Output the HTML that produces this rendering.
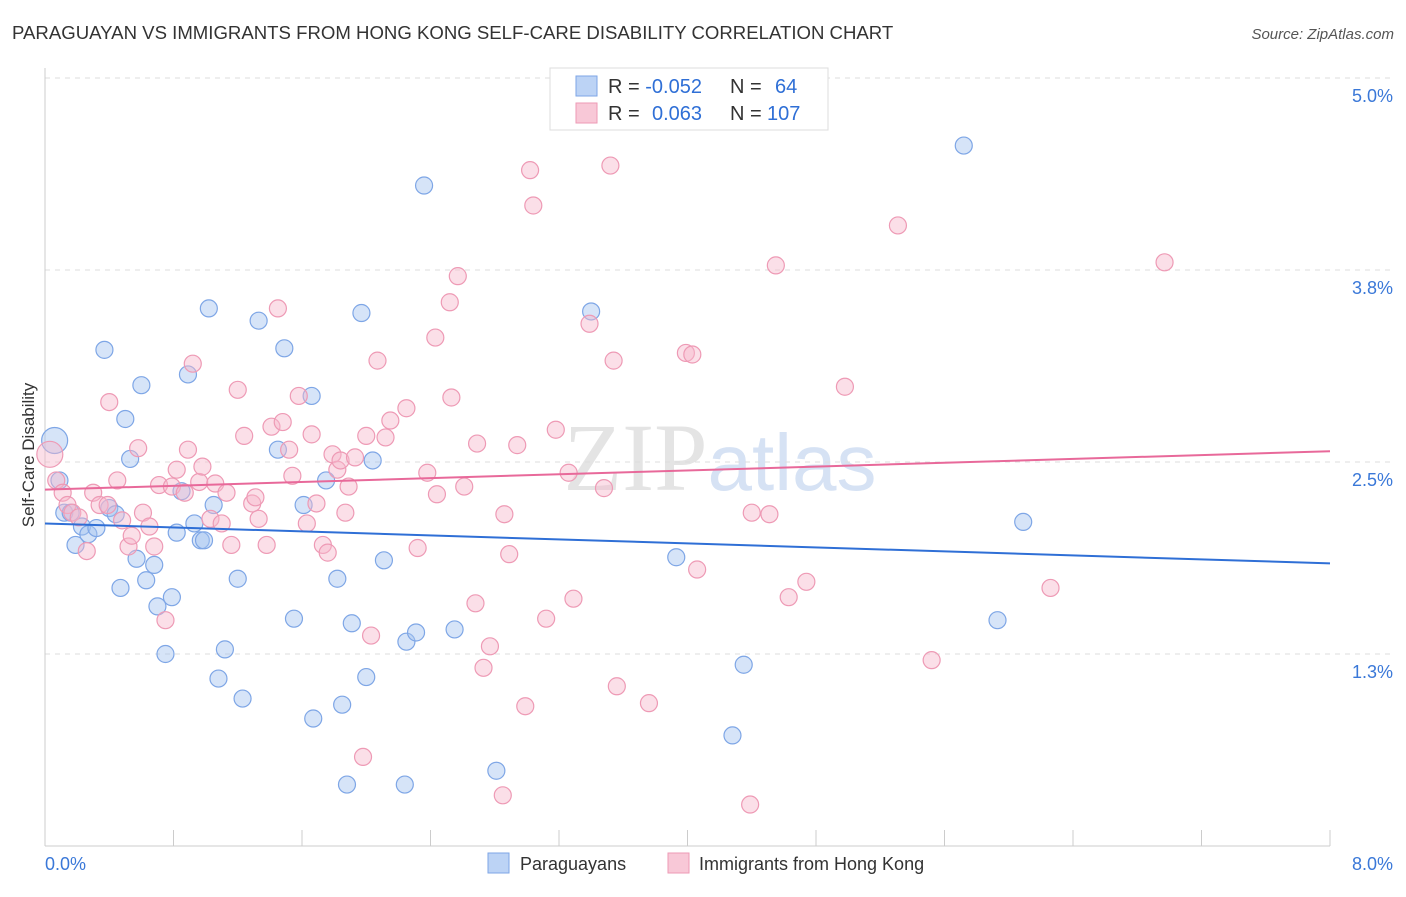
<!DOCTYPE html>
<html><head><meta charset="utf-8"><style>
body{margin:0;background:#fff;font-family:"Liberation Sans",sans-serif;}
</style></head><body>
<svg id="chart" width="1406" height="892" xmlns="http://www.w3.org/2000/svg">
<text x="12" y="39" font-size="18.6" fill="#333">PARAGUAYAN VS IMMIGRANTS FROM HONG KONG SELF-CARE DISABILITY CORRELATION CHART</text>
<text x="1394" y="39" font-size="15" fill="#555" font-style="italic" text-anchor="end">Source: ZipAtlas.com</text>
<text x="720" y="490" font-size="96" fill="#e4e4e4" text-anchor="middle" font-family="Liberation Serif">ZIP<tspan fill="#d6e2f4" font-family="Liberation Sans" font-size="80">atlas</tspan></text>
<g id="grid"></g>
<g id="axes"></g>
<g id="pts"></g>
<g id="lines"></g>
<text transform="translate(34,455) rotate(-90)" font-size="17" fill="#333" text-anchor="middle">Self-Care Disability</text>
<g>
<rect x="550" y="68" width="278" height="62" fill="#fff" stroke="#ddd"/>
<rect x="576" y="76" width="21" height="20" fill="#bcd3f5" stroke="#7ea6e6"/>
<rect x="576" y="103" width="21" height="20" fill="#f8c8d7" stroke="#ee9ab5"/>
<text x="608" y="93" font-size="20" fill="#333">R = <tspan fill="#2f6fd6">-0.052</tspan><tspan x="730">N =</tspan><tspan x="775" fill="#2f6fd6">64</tspan></text>
<text x="608" y="120" font-size="20" fill="#333">R = <tspan x="652" fill="#2f6fd6">0.063</tspan><tspan x="730">N =</tspan><tspan x="767" fill="#2f6fd6">107</tspan></text>
</g>
<g>
<rect x="488" y="853" width="21" height="20" fill="#bcd3f5" stroke="#7ea6e6"/>
<text x="520" y="870" font-size="18" fill="#333">Paraguayans</text>
<rect x="668" y="853" width="21" height="20" fill="#f8c8d7" stroke="#ee9ab5"/>
<text x="699" y="870" font-size="18" fill="#333">Immigrants from Hong Kong</text>
</g>
</svg>
<script>
const blueX=[0.06,0.09,0.12,0.16,0.19,0.23,0.27,0.32,0.37,0.40,0.44,0.47,0.50,0.53,0.57,0.60,0.63,0.68,0.70,0.75,0.79,0.82,0.85,0.89,0.93,0.97,0.99,1.02,1.05,1.08,1.12,1.20,1.23,1.33,1.45,1.49,1.55,1.61,1.66,1.67,1.75,1.82,1.85,1.88,1.91,1.97,2.00,2.04,2.11,2.24,2.25,2.31,2.36,2.55,2.81,3.40,3.93,4.28,4.35,5.72,5.93,6.09];
const blueY=[2.64,2.38,2.17,2.17,1.96,2.08,2.03,2.07,3.23,2.20,2.16,1.68,2.78,2.52,1.87,3.00,1.73,1.83,1.56,1.25,1.62,2.04,2.31,3.07,2.10,1.99,1.99,3.50,2.22,1.09,1.28,1.74,0.96,3.42,2.58,3.24,1.48,2.22,2.93,0.83,2.38,1.74,0.92,0.40,1.45,3.47,1.10,2.51,1.86,0.40,1.33,1.39,4.30,1.41,0.49,3.48,1.88,0.72,1.18,4.56,1.47,2.11];
const pinkX=[0.03,0.07,0.11,0.14,0.17,0.21,0.26,0.30,0.34,0.39,0.40,0.45,0.48,0.52,0.54,0.58,0.61,0.65,0.68,0.71,0.75,0.79,0.82,0.87,0.89,0.92,0.96,0.98,1.03,1.06,1.10,1.13,1.16,1.20,1.24,1.29,1.31,1.33,1.38,1.41,1.45,1.48,1.52,1.54,1.58,1.63,1.66,1.69,1.73,1.76,1.79,1.82,1.84,1.87,1.89,1.93,1.98,2.00,2.03,2.07,2.12,2.15,2.25,2.32,2.38,2.43,2.44,2.52,2.53,2.57,2.61,2.68,2.69,2.73,2.77,2.85,2.86,2.89,2.94,2.99,3.02,3.04,3.12,3.18,3.26,3.29,3.39,3.48,3.52,3.54,3.56,3.76,3.99,4.03,4.06,4.40,4.51,4.55,4.63,4.74,4.98,5.31,5.52,6.26,6.97,4.39];
const pinkY=[2.55,2.38,2.30,2.22,2.17,2.14,1.92,2.30,2.22,2.22,2.89,2.38,2.12,1.95,2.02,2.59,2.17,2.08,1.95,2.35,1.47,2.34,2.45,2.30,2.58,3.14,2.37,2.47,2.13,2.36,2.10,2.30,1.96,2.97,2.67,2.23,2.27,2.13,1.96,2.73,3.50,2.76,2.58,2.41,2.93,2.10,2.68,2.23,1.96,1.91,2.55,2.45,2.51,2.17,2.34,2.53,0.58,2.67,1.37,3.16,2.66,2.77,2.85,1.94,2.43,3.31,2.29,3.54,2.92,3.71,2.34,1.58,2.62,1.16,1.30,0.33,2.16,1.90,2.61,0.91,4.40,4.17,1.48,2.71,2.43,1.61,3.40,2.33,4.43,3.16,1.04,0.93,3.21,3.20,1.80,2.17,2.16,3.78,1.62,1.72,2.99,4.04,1.21,1.68,3.80,0.27];
const blueTrend=[2.10,1.84];
const pinkTrend=[2.32,2.57];
const yTicks=[1.25,2.5,3.75,5.0];
const yTickLabels=["1.3%","2.5%","3.8%","5.0%"];
const xTicks=[0,0.8,1.6,2.4,3.2,4.0,4.8,5.6,6.4,7.2,8.0];
const NS="http://www.w3.org/2000/svg";
const sx=v=>45+v*160.625, sy=v=>846-v*153.6;
function mk(p,t,a){const e=document.createElementNS(NS,t);for(const k in a)e.setAttribute(k,a[k]);p.appendChild(e);return e;}
const grid=document.getElementById('grid'),axes=document.getElementById('axes'),pts=document.getElementById('pts'),lines=document.getElementById('lines');
yTicks.forEach((v,i)=>{
 const g=mk(grid,'line',{x1:45,x2:1394,y1:sy(v),y2:sy(v),stroke:'#ddd','stroke-dasharray':'5,5'});
 
 
 const t=mk(axes,'text',{x:1393,y:sy(v)+24,'font-size':18,fill:'#3a78d8','text-anchor':'end'});
 t.textContent=yTickLabels[i];
 
 
});
const ax=mk(axes,'line',{x1:45,x2:45,y1:68,y2:846,stroke:'#ccc'});


const bx=mk(axes,'line',{x1:45,x2:1330,y1:846,y2:846,stroke:'#ccc'});


xTicks.forEach(v=>{
 const l=mk(axes,'line',{x1:sx(v),x2:sx(v),y1:830,y2:846,stroke:'#ccc'});
 
 
});
const xl0=mk(axes,'text',{x:45,y:870,'font-size':18,fill:'#3a78d8'});xl0.textContent="0.0%";


const xl1=mk(axes,'text',{x:1393,y:870,'font-size':18,fill:'#3a78d8','text-anchor':'end'});xl1.textContent="8.0%";


function dots(X,Y,fill,stroke,name){
 X.forEach((x,i)=>{
  const r=i===0?13:8.5;
  const c=mk(pts,'circle',{cx:sx(x),cy:sy(Y[i]),r:r,fill:fill,stroke:stroke,'stroke-width':1.2});
  
  
 });
}
dots(blueX,blueY,'rgba(165,195,240,0.45)','#7ea6e6','paraguayan-point');
dots(pinkX,pinkY,'rgba(246,185,205,0.45)','#ee9ab5','hongkong-point');
const bl=mk(lines,'line',{x1:sx(0),x2:sx(8),y1:sy(blueTrend[0]),y2:sy(blueTrend[1]),stroke:'#2f6fd6','stroke-width':2});


const pl=mk(lines,'line',{x1:sx(0),x2:sx(8),y1:sy(pinkTrend[0]),y2:sy(pinkTrend[1]),stroke:'#e8699a','stroke-width':2});


</script>
</body></html>
